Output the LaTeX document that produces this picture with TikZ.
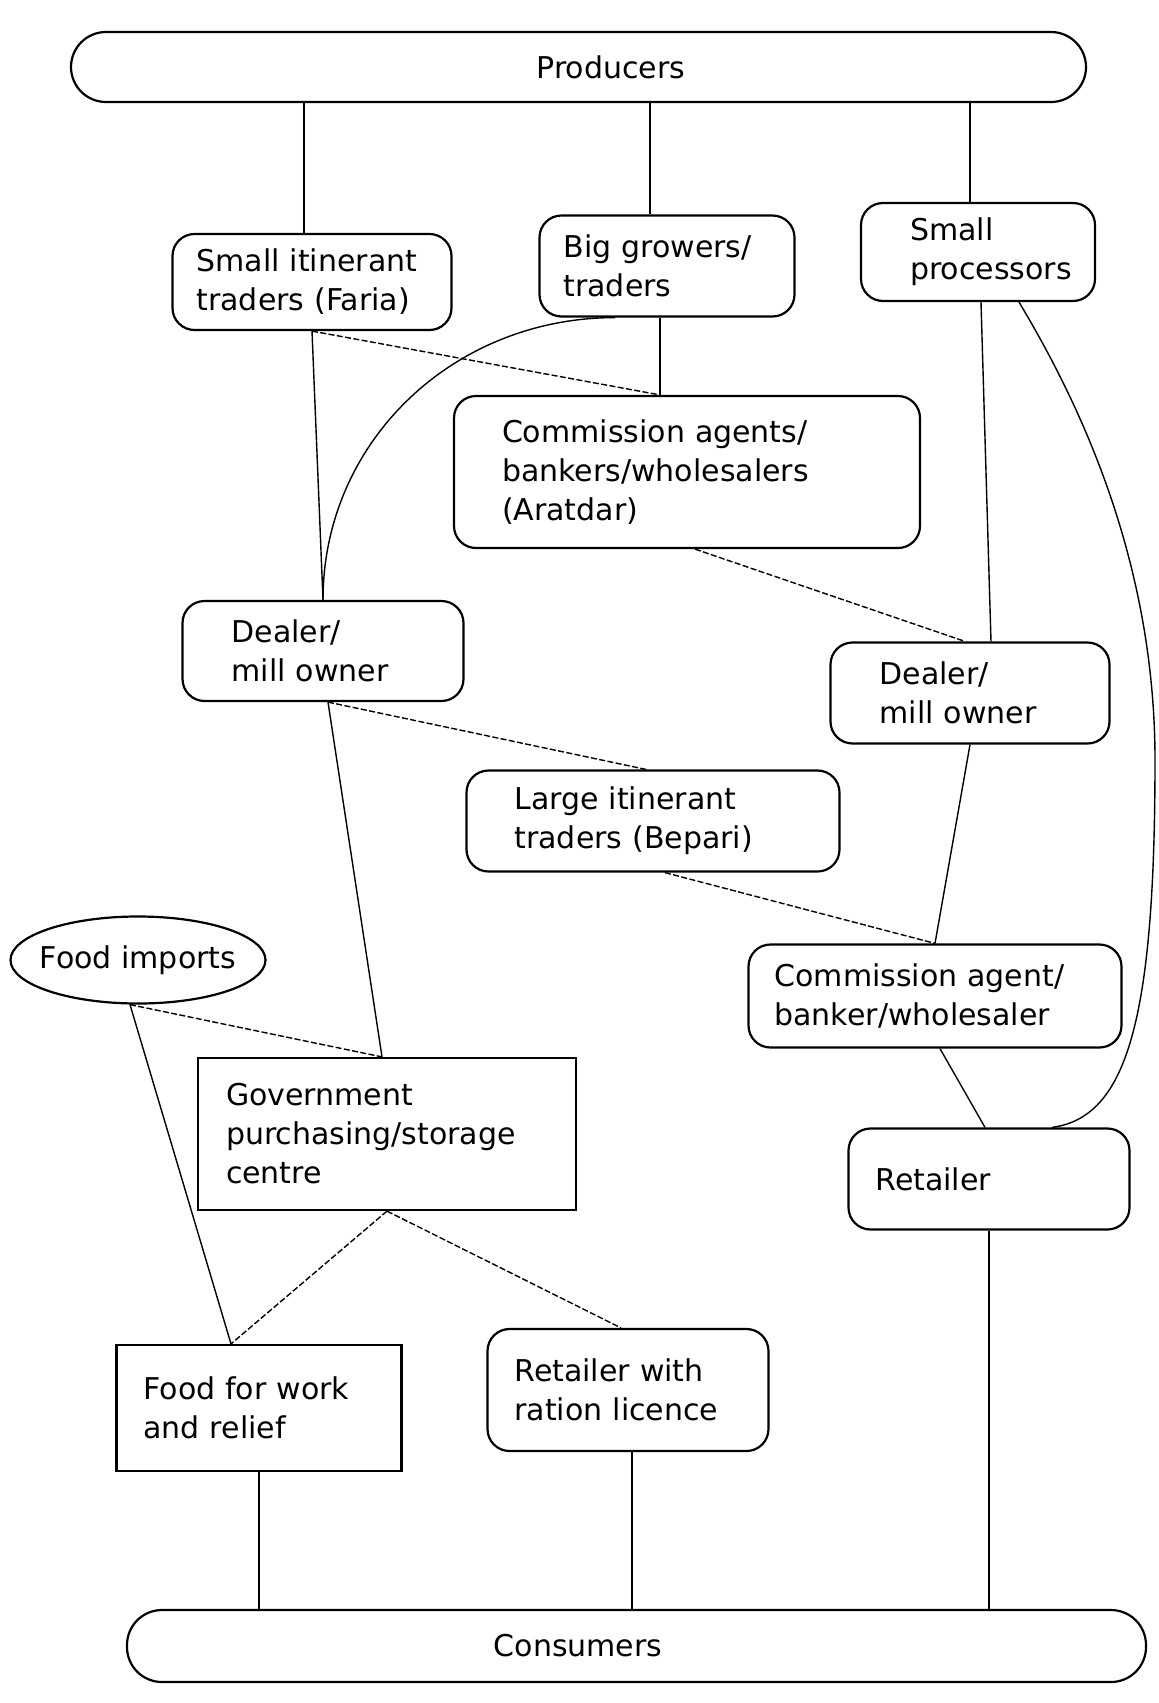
\documentclass[tikz,border=0pt]{standalone}
\usepackage{fontspec}
\setmainfont{DejaVu Sans}
\usetikzlibrary{calc,shapes.geometric}
\begin{document}
\begin{tikzpicture}[x=0.5pt,y=-0.5pt,
  every node/.style={font=\fontsize{15}{19.5}\selectfont},
  rbox/.style={draw,line width=1.1pt,rounded corners=11pt,align=left},
  sbox/.style={draw,line width=1.1pt,align=left},
  bar/.style={draw,line width=1.1pt,rounded corners=17.5pt},
  con/.style={line width=0.7pt},
  dcon/.style={line width=0.7pt,dash pattern=on 3pt off 1.2pt}]
\fill[white] (0,0) rectangle (1158,1703);
\useasboundingbox (0,0) rectangle (1158,1703);

% nodes
\node[bar,minimum width=507.5pt,minimum height=35pt] (prod) at (578.5,67) {\hspace*{32.5pt}Producers};
\node[rbox,text width=115.5pt,inner xsep=12pt,minimum height=48pt] (faria) at (312,282) {\mbox{Small itinerant}\\\mbox{traders (Faria)}};
\node[rbox,text width=103.5pt,inner xsep=12pt,minimum height=50.5pt] (big) at (667,266) {Big growers/\\traders};
\node[rbox,text width=68pt,inner xsep=24.5pt,minimum height=49pt] (proc) at (978,252) {Small\\\mbox{processors}};
\node[rbox,text width=185pt,inner xsep=24pt,minimum height=76pt] (arat) at (687,472) {Commission agents/\\bankers/wholesalers\\(Aratdar)};
\node[rbox,text width=91.5pt,inner xsep=24.5pt,minimum height=50pt] (dealL) at (323,651) {Dealer/\\mill owner};
\node[rbox,text width=90.5pt,inner xsep=24.5pt,minimum height=50.5pt] (dealR) at (970,693) {Dealer/\\mill owner};
\node[rbox,text width=138.5pt,inner xsep=24pt,minimum height=50.5pt] (bep) at (653,821) {Large itinerant\\traders (Bepari)};
\node[ellipse,draw,line width=1.1pt,minimum width=127.5pt,minimum height=43.5pt,inner xsep=-10pt,inner ysep=0pt] (imp) at (138,960) {Food imports};
\node[rbox,text width=160.5pt,inner xsep=13pt,minimum height=51.5pt] (comm) at (935,996) {Commission agent/\\banker/wholesaler};
\node[sbox,text width=161pt,inner xsep=14pt,minimum height=76pt] (govt) at (387,1134) {Government\\purchasing/storage\\centre};
\node[rbox,text width=113.5pt,inner xsep=13.5pt,minimum height=50.5pt] (ret) at (989,1179) {Retailer};
\node[sbox,text width=115.5pt,inner xsep=13.5pt,minimum height=63pt] (ffw) at (259,1408) {Food for work\\and relief};
\node[rbox,text width=113.5pt,inner xsep=13.5pt,minimum height=61pt] (rat) at (628,1390) {Retailer with\\ration licence};
\node[bar,minimum width=509.5pt,minimum height=36pt] (cons) at (636.5,1646) {Consumers\hspace*{58.5pt}};

% connectors from producers
\coordinate (p1) at ($(faria.north)+(-8,0)$);
\draw[con] (p1) -- (p1 |- prod.south);
\coordinate (p2) at ($(big.north)+(-17,0)$);
\draw[con] (p2) -- (p2 |- prod.south);
\coordinate (p3) at ($(proc.north)+(-8,0)$);
\draw[con] (p3) -- (p3 |- prod.south);

% middle
\draw[con] (faria.south) -- (dealL.north);
\coordinate (bg) at ($(big.south)+(-7,0)$);
\coordinate (at) at (bg |- arat.north);
\draw[con] (bg) -- (at);
\draw[dcon] (faria.south) -- (at);
\draw[con] ($(big.south)+(-52,0)$) .. controls +(-162,0) and +(0,-158) .. (dealL.north);
\draw[con] ($(proc.south)+(3,0)$) -- ($(dealR.north)+(21,0)$);
\draw[con] ($(proc.south)+(41,0)$) .. controls +(60,100) and +(0,-200) .. (1155,760)
  .. controls +(0,260) and +(75,-10) .. ($(ret.north)+(63,0)$);
\draw[dcon] ($(arat.south)+(8,0)$) -- ($(dealR.north)+(-5,0)$);
\coordinate (dl) at ($(dealL.south)+(5,0)$);
\draw[dcon] (dl) -- ($(bep.north)+(-7,0)$);
\coordinate (gt) at ($(govt.north)+(-5,0)$);
\draw[con] (dl) -- (gt);
\draw[con] (dealR.south) -- (comm.north);
\draw[dcon] ($(bep.south)+(12,0)$) -- (comm.north);
\coordinate (ib) at ($(imp.south)+(-8,0)$);
\draw[dcon] (ib) -- (gt);
\coordinate (ft) at ($(ffw.north)+(-28,0)$);
\draw[con] (ib) -- (ft);
\draw[dcon] (govt.south) -- (ft);
\draw[dcon] (govt.south) -- ($(rat.north)+(-7,0)$);
\draw[con] ($(comm.south)+(5,0)$) -- ($(ret.north)+(-4,0)$);

% to consumers
\draw[con] (ret.south) -- (ret.south |- cons.north);
\draw[con] (ffw.south) -- (ffw.south |- cons.north);
\coordinate (rb) at ($(rat.south)+(4,0)$);
\draw[con] (rb) -- (rb |- cons.north);
\end{tikzpicture}
\end{document}
